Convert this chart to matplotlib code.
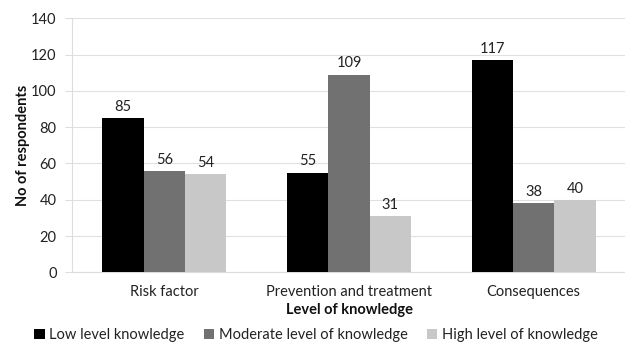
import matplotlib.pyplot as plt
import numpy as np

categories = ["Risk factor", "Prevention and treatment", "Consequences"]
series_names = ["Low level knowledge", "Moderate level of knowledge", "High level of knowledge"]
low = [85, 55, 117]
moderate = [56, 109, 38]
high = [54, 31, 40]
colors = ["#000000", "#717171", "#c8c8c8"]
y_ticks = [0, 20, 40, 60, 80, 100, 120, 140]

plt.rcParams['font.family'] = ['Lato', 'DejaVu Sans']

fig = plt.figure(figsize=(6.25, 3.47), dpi=100)
ax = fig.add_axes([72 / 625, 1 - 272.3 / 347, (626 - 72) / 625, (272.3 - 18.3) / 347])

x = np.arange(len(categories))
width = 0.224
for i, (vals, name, c) in enumerate(zip([low, moderate, high], series_names, colors)):
    pos = x + (i - 1) * width
    bars = ax.bar(pos, vals, width, color=c, label=name, zorder=3)
    for p, v in zip(pos, vals):
        ax.annotate(str(v), (p, v), xytext=(0, 3), textcoords="offset points",
                    ha="center", va="bottom", fontsize=10.5, color="#222222")

ax.set_xlim(-0.5, 2.5)
ax.set_ylim(0, 140)
ax.set_yticks(y_ticks)
ax.set_xticks(x)
ax.set_xticklabels(categories)
ax.tick_params(axis="x", length=0, pad=9, labelsize=10.5, colors="#222222")
ax.tick_params(axis="y", length=5, width=0.8, color="#dddddd", pad=6, labelsize=10.5, labelcolor="#222222")
ax.grid(axis="y", color="#e0e0e0", linewidth=0.8, zorder=0)
for s in ["top", "right"]:
    ax.spines[s].set_visible(False)
ax.spines["left"].set_color("#dddddd")
ax.spines["bottom"].set_color("#dddddd")
ax.spines["left"].set_linewidth(0.8)
ax.spines["bottom"].set_linewidth(0.8)

ax.set_ylabel("No of respondents", fontsize=10.5, fontweight="bold", labelpad=1, color="#111111")
ax.set_xlabel("Level of knowledge", fontsize=10.5, fontweight="bold", labelpad=3, color="#111111")

fig.legend(loc="center", bbox_to_anchor=(316 / 625, 1 - 335 / 347), ncol=3, frameon=False,
           fontsize=10.5, handlelength=0.7, handleheight=0.7, handletextpad=0.3,
           columnspacing=1.35, labelcolor="#222222")

fig.savefig("out.png", dpi=100)
